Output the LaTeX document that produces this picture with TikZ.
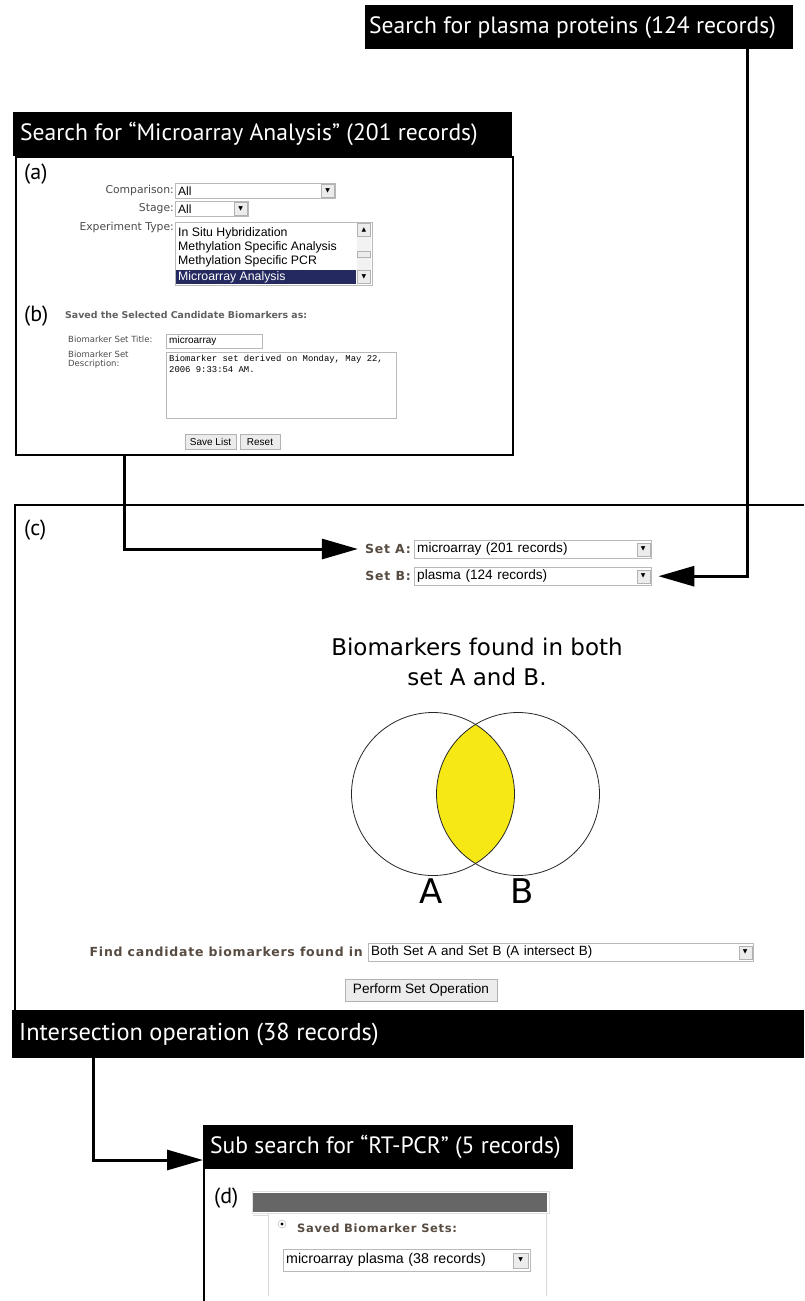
\documentclass[tikz,border=0pt]{standalone}
\usepackage{fontspec}
\usetikzlibrary{arrows.meta}
\newfontfamily\barfont{PT Sans}
\newfontfamily\verdfont{DejaVu Sans}
\newfontfamily\arialfont{Liberation Sans}
\newfontfamily\courfont{Liberation Mono}
\newfontfamily\symfont{DejaVu Sans}
\newcommand{\fsz}[1]{\fontsize{#1}{#1}\selectfont}
\definecolor{labelbrown}{RGB}{88,76,66}
\definecolor{selnavy}{RGB}{36,42,96}
\definecolor{vennyellow}{RGB}{245,232,20}
\definecolor{headgray}{RGB}{102,102,102}

\begin{document}
\begin{tikzpicture}[x=1pt,y=-1pt,>={Triangle[length=36pt,width=20pt]},
  bar/.style={fill=black,text=white,anchor=north west,inner xsep=7pt,inner ysep=0pt,minimum height=44pt,font=\barfont\fsz{23.6}},
  panel/.style={draw=black,line width=1.6pt,anchor=north west,inner sep=0pt},
  conn/.style={->,line width=3pt},
  tag/.style={anchor=west,inner sep=0pt,font=\barfont\fsz{22}},
  lbl/.style={inner sep=1pt,text=gray!60!black,font=\verdfont\fsz{10.8}},
  smalllbl/.style={anchor=west,inner sep=0pt,text=gray!60!black,align=left,font=\verdfont\fsz{8.5}},
  setlbl/.style={inner sep=1pt,text=labelbrown,font=\verdfont\bfseries\addfontfeature{LetterSpace=6}\fsz{12.5}},
  dropbox/.style={draw=gray!55,fill=white,anchor=north west,inner xsep=3pt,inner ysep=0pt,align=left,font=\arialfont\fsz{13.6}},
  arrowbtn/.style={draw=gray!60,fill=gray!15,minimum size=13pt,inner sep=0pt,font=\symfont\fsz{6}},
  item/.style={anchor=west,inner sep=1pt,font=\arialfont\fsz{12.3}},
  btn/.style={draw=gray!60,fill=gray!15,inner sep=0pt,font=\arialfont\fsz{10}},
  venn/.style={draw=gray!30!black,line width=0.8pt}]
\fill[white] (0,0) rectangle (804,1301);
\useasboundingbox (0,0) rectangle (804,1301);

\node[panel,minimum width=497pt,minimum height=298pt] (abpanel) at (15,156) {};
\draw[line width=1.6pt] (804,505) -- (15,505) -- (15,1010);
\draw[line width=1.2pt] (204,1168) -- (204,1301);

\node[bar,inner xsep=4pt] (plasma) at (365,5) {\makebox[420pt][l]{Search for plasma proteins (124 records)}};
\node[bar] (micro) at (13,112) {\makebox[485pt][l]{Search for “Microarray Analysis” (201 records)}};
\node[bar,minimum height=48pt,font=\barfont\fsz{24.4}] (inter) at (12,1010) {\makebox[778pt][l]{Intersection operation (38 records)}};
\node[bar] (subs) at (203,1125) {\makebox[356pt][l]{Sub search for “RT-PCR” (5 records)}};

\node[tag] (alabel) at (24,174) {(a)};
\node[lbl,anchor=east] (cmplbl) at (175,190.5) {Comparison:};
\node[dropbox,minimum width=160pt,text width=154pt,minimum height=15pt,font=\arialfont\fsz{12}] (cmpdrop) at (175,183) {All};
\node[arrowbtn,anchor=east] at ([xshift=-1pt]cmpdrop.east) {▼};
\node[lbl,anchor=east] (stagelbl) at (175,208.5) {Stage:};
\node[dropbox,minimum width=73pt,text width=67pt,minimum height=15pt,font=\arialfont\fsz{12}] (stagedrop) at (175,201) {All};
\node[arrowbtn,anchor=east] at ([xshift=-1pt]stagedrop.east) {▼};
\node[lbl,anchor=east] (explbl) at (175,228) {Experiment Type:};
\draw[gray!55,fill=white] (175,222) rectangle (372,285);
\node[item] at (177,233) {In Situ Hybridization};
\node[item] at (177,247) {Methylation Specific Analysis};
\node[item] at (177,261) {Methylation Specific PCR};
\fill[selnavy] (176,270) rectangle (356,284);
\node[item,text=white] at (177,277) {Microarray Analysis};
\fill[gray!10] (357,223) rectangle (371,284);
\node[arrowbtn] at (364,229.5) {▲};
\node[arrowbtn,minimum height=6pt] at (364,254) {};
\node[arrowbtn] at (364,277) {▼};

\node[tag] (blabel) at (24,316) {(b)};
\node[setlbl,anchor=west,text=gray!75!black,font=\verdfont\bfseries\fsz{9.4}] (savedas) at (64,315) {Saved the Selected Candidate Biomarkers as:};
\node[smalllbl] (titlelbl) at (68,339) {Biomarker Set Title:};
\node[dropbox,minimum width=96pt,text width=90pt,minimum height=14pt,font=\arialfont\fsz{10}] (titlebox) at (166,334) {microarray};
\node[smalllbl,anchor=north west] (desclbl) at (68,351) {Biomarker Set\\Description:};
\node[dropbox,minimum width=230pt,minimum height=66pt] (descbox) at (166,352) {};
\node[anchor=north west,inner sep=0pt,align=left,font=\courfont\fontsize{8.9}{11}\selectfont] (desctext) at (169,355) {Biomarker set derived on Monday, May 22,\\2006 9:33:54 AM.};
\node[btn,minimum width=51pt,minimum height=15pt] (savebtn) at (210.5,442) {Save List};
\node[btn,minimum width=40pt,minimum height=15pt] (resetbtn) at (260,442) {Reset};

\node[tag] (clabel) at (24,530) {(c)};
\node[setlbl,anchor=east] (setA) at (412,549) {Set A:};
\node[dropbox,minimum width=237pt,text width=231pt,minimum height=18pt] (dropA) at (414,540) {microarray (201 records)};
\node[arrowbtn,anchor=east] at ([xshift=-1.5pt]dropA.east) {▼};
\node[setlbl,anchor=east] (setB) at (412,576) {Set B:};
\node[dropbox,minimum width=237pt,text width=231pt,minimum height=18pt] (dropB) at (414,567) {plasma (124 records)};
\node[arrowbtn,anchor=east] at ([xshift=-1.5pt]dropB.east) {▼};

\node[font=\verdfont\fontsize{23}{30}\selectfont,align=center] (venntitle) at (477,662) {Biomarkers found in both\\set A and B.};
\begin{scope}
\clip (433,794) circle[radius=81.5pt];
\fill[vennyellow] (518,794) circle[radius=81.5pt];
\end{scope}
\draw[venn] (433,794) circle[radius=81.5pt];
\draw[venn] (518,794) circle[radius=81.5pt];
\node[font=\verdfont\fsz{34}] (setAname) at (431,891) {A};
\node[font=\verdfont\fsz{34}] (setBname) at (522,891) {B};

\node[setlbl,anchor=east] (findlbl) at (364,952) {Find candidate biomarkers found in};
\node[dropbox,minimum width=385pt,text width=379pt,minimum height=18pt,font=\arialfont\fsz{13.4}] (dropOp) at (368,943) {Both Set A and Set B (A intersect B)};
\node[arrowbtn,anchor=east] at ([xshift=-1.5pt]dropOp.east) {▼};
\node[btn,minimum width=152pt,minimum height=22pt,font=\arialfont\fsz{13.6}] (perform) at (421,990) {Perform Set Operation};

\node[tag] (dlabel) at (214,1198) {(d)};
\draw[gray!25] (252,1191) rectangle (549,1213);
\fill[headgray] (253,1193) rectangle (547,1212);
\draw[gray!30,line width=0.8pt] (253,1215) -- (268,1215) (268,1213) -- (268,1296) (546,1213) -- (546,1296);
\draw[gray!60,fill=white] (282,1224) circle[radius=4pt];
\fill (282,1224) circle[radius=1.6pt];
\node[setlbl,anchor=west,font=\verdfont\bfseries\addfontfeature{LetterSpace=6}\fsz{11.5}] (savedsets) at (296,1228) {Saved Biomarker Sets:};
\node[dropbox,minimum width=247pt,text width=241pt,minimum height=22pt,font=\arialfont\fsz{14.2}] (dropD) at (283,1249) {microarray plasma (38 records)};
\node[arrowbtn,anchor=east,minimum size=15pt] at ([xshift=-2pt]dropD.east) {▼};

\coordinate (abdrop) at (124,0);
\coordinate (plasmadrop) at (747,0);
\coordinate (interdrop) at (93,0);
\coordinate (subin) at (203,1160);
\draw[conn,shorten >=6pt] (abpanel.south -| abdrop) |- (setA);
\draw[conn,shorten >=7pt] (plasma.south -| plasmadrop) |- (dropB);
\draw[conn] (inter.south -| interdrop) |- (subin);
\end{tikzpicture}
\end{document}
